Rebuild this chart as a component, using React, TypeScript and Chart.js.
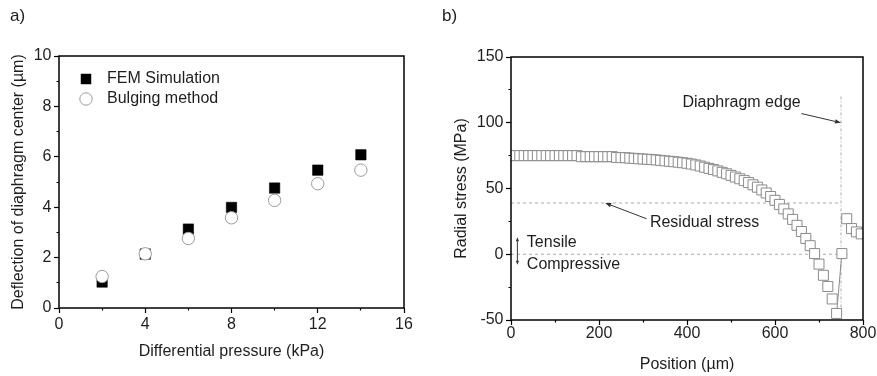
import React, { useEffect, useRef } from "react";
import { Chart, registerables } from "chart.js";

Chart.register(...registerables);

const FONT_FAMILY = '"Liberation Sans", Arial, Helvetica, sans-serif';
const TEXT_COLOR = "#1e1e1e";

// ---------------- Panel a data ----------------
const pressureKPa = [2, 4, 6, 8, 10, 12, 14];
const femDeflectionUm = [1.03, 2.14, 3.13, 3.99, 4.76, 5.47, 6.08];
const bulgingDeflectionUm = [1.25, 2.15, 2.76, 3.58, 4.27, 4.93, 5.47];
const aSeriesLabels = ["FEM Simulation", "Bulging method"];
const aXTickLabels = [0, 4, 8, 12, 16];
const aYTickLabels = [0, 2, 4, 6, 8, 10];

// ---------------- Panel b data ----------------
const positionUm = [
  0, 10, 20, 30, 40, 50, 60, 70, 80, 90,
  100, 110, 120, 130, 140, 150, 160, 170, 180, 190,
  200, 210, 220, 230, 240, 250, 260, 270, 280, 290,
  300, 310, 320, 330, 340, 350, 360, 370, 380, 390,
  400, 410, 420, 430, 440, 450, 460, 470, 480, 490,
  500, 510, 520, 530, 540, 550, 560, 570, 580, 590,
  600, 610, 620, 630, 640, 650, 660, 670, 680, 690,
  700, 710, 720, 730, 740, 752, 763, 774, 785, 796,
];
const radialStressMPa = [
  75, 75, 75, 75, 75, 75, 75, 75, 75, 75,
  75, 75, 75, 75, 75, 75, 74.2, 74.2, 74.2, 74.2,
  74.2, 74.2, 74.2, 74.2, 73.6, 73.5, 73.4, 73.1, 72.9, 72.6,
  72.4, 72.2, 72.0, 71.7, 71.4, 71.0, 70.7, 70.4, 70.0, 69.6,
  69.2, 68.6, 67.9, 67.1, 66.2, 65.3, 64.4, 63.4, 62.3, 61.2,
  60.0, 58.7, 57.4, 56.0, 54.5, 52.8, 51.0, 48.9, 46.6, 43.9,
  41.0, 37.9, 34.5, 30.7, 26.5, 22.0, 17.3, 12.0, 6.5, 0.5,
  -7.5, -16.0, -24.5, -34.0, -45.0, 0.5, 27.0, 19.5, 17.0, 15.5,
];
const bXTickLabels = [0, 200, 400, 600, 800];
const bYTickLabels = [-50, 0, 50, 100, 150];
const residualStressMPa = 39;
const diaphragmEdgeUm = 750;
const edgeLineTopMPa = 120;
const zeroLineEndUm = 765;

// annotation anchors (data units of panel b)
const bNotes = [
  { text: "Diaphragm edge", x: 524, y: 115, align: "center" },
  { text: "Residual stress", x: 440, y: 24, align: "center" },
  { text: "Tensile", x: 36, y: 9, align: "left" },
  { text: "Compressive", x: 36, y: -7.5, align: "left" },
];
const bArrows = [
  { x1: 660, y1: 107, x2: 750, y2: 100, head: 6, half: 2.2 },
  { x1: 308, y1: 27, x2: 214, y2: 39, head: 6, half: 2.2 },
  { x1: 14.5, y1: 0, x2: 14.5, y2: 13, head: 4, half: 1.6 },
  { x1: 14.5, y1: 0, x2: 14.5, y2: -8, head: 4, half: 1.6 },
];

const TICK_LEN = 5;
const MINOR_LEN = 2.5;

function makeAxis(cfg: {
  horizontal: boolean;
  min: number;
  max: number;
  step: number;
  labels: number[];
  tickPad: number;
  title: string;
  titlePad: number;
  size: number;
}) {
  const isMajor = (v: number) => cfg.labels.includes(v);
  return {
    type: "linear",
    position: cfg.horizontal ? "bottom" : "left",
    min: cfg.min,
    max: cfg.max,
    afterFit: (s: any) => {
      if (cfg.horizontal) s.height = cfg.size;
      else s.width = cfg.size;
      s.paddingLeft = 0;
      s.paddingRight = 0;
      s.paddingTop = 0;
      s.paddingBottom = 0;
    },
    ticks: {
      stepSize: cfg.step,
      autoSkip: false,
      maxRotation: 0,
      minRotation: 0,
      padding: cfg.tickPad,
      color: TEXT_COLOR,
      font: { family: FONT_FAMILY, size: 16 },
      callback: (v: any) => (isMajor(Number(v)) ? String(v) : ""),
    },
    grid: {
      display: true,
      drawOnChartArea: false,
      drawTicks: true,
      tickLength: TICK_LEN,
      tickColor: "#000",
      tickWidth: 1.2,
      tickBorderDash: (ctx: any) => {
        if (!ctx || !ctx.tick || isMajor(ctx.tick.value)) return [];
        return cfg.horizontal
          ? [MINOR_LEN, 30]
          : [0, TICK_LEN - MINOR_LEN, MINOR_LEN, 30];
      },
    },
    border: { display: false },
    title: {
      display: true,
      text: cfg.title,
      color: TEXT_COLOR,
      font: { family: FONT_FAMILY, size: 16 },
      padding: cfg.horizontal
        ? { top: 0, bottom: cfg.titlePad }
        : { top: cfg.titlePad, bottom: 0 },
    },
  };
}

const framePlugin = {
  id: "frame",
  afterDraw(chart: any) {
    const { ctx, chartArea: a } = chart;
    ctx.save();
    ctx.strokeStyle = "#000";
    ctx.lineWidth = 1.5;
    ctx.strokeRect(a.left, a.top, a.right - a.left, a.bottom - a.top);
    ctx.restore();
  },
};

function panelLabelPlugin(text: string, x: number, y: number) {
  return {
    id: "panelLabel",
    afterDraw(chart: any) {
      const ctx = chart.ctx;
      ctx.save();
      ctx.fillStyle = TEXT_COLOR;
      ctx.font = `17px ${FONT_FAMILY}`;
      ctx.textAlign = "left";
      ctx.textBaseline = "alphabetic";
      ctx.fillText(text, x, y);
      ctx.restore();
    },
  };
}

const legendPlugin = {
  id: "insideLegend",
  afterDatasetsDraw(chart: any) {
    const { ctx, chartArea: a } = chart;
    ctx.save();
    ctx.font = `16px ${FONT_FAMILY}`;
    ctx.textBaseline = "middle";
    ctx.textAlign = "left";
    chart.data.datasets.forEach((ds: any, i: number) => {
      const cx = a.left + 27;
      const cy = a.top + 23 + i * 20;
      ctx.lineWidth = ds.pointBorderWidth;
      ctx.strokeStyle = ds.pointBorderColor;
      ctx.fillStyle = ds.pointBackgroundColor;
      if (ds.pointStyle === "rect") {
        const h = ds.pointRadius * Math.SQRT1_2;
        ctx.fillRect(cx - h, cy - h, 2 * h, 2 * h);
      } else {
        ctx.beginPath();
        ctx.arc(cx, cy, ds.pointRadius, 0, Math.PI * 2);
        ctx.fill();
        ctx.stroke();
      }
      ctx.fillStyle = TEXT_COLOR;
      ctx.fillText(ds.label, a.left + 48, cy);
    });
    ctx.restore();
  },
};

function drawArrow(ctx: any, x1: number, y1: number, x2: number, y2: number, head: number, half: number) {
  const ang = Math.atan2(y2 - y1, x2 - x1);
  const bx = x2 - head * Math.cos(ang);
  const by = y2 - head * Math.sin(ang);
  ctx.beginPath();
  ctx.moveTo(x1, y1);
  ctx.lineTo(bx, by);
  ctx.stroke();
  ctx.beginPath();
  ctx.moveTo(x2, y2);
  ctx.lineTo(bx + half * Math.sin(ang), by - half * Math.cos(ang));
  ctx.lineTo(bx - half * Math.sin(ang), by + half * Math.cos(ang));
  ctx.closePath();
  ctx.fill();
}

const annotationPlugin = {
  id: "annotations",
  afterDatasetsDraw(chart: any) {
    const { ctx } = chart;
    const xs = chart.scales.x;
    const ys = chart.scales.y;
    ctx.save();
    ctx.fillStyle = TEXT_COLOR;
    ctx.strokeStyle = "#333";
    ctx.lineWidth = 1;
    ctx.font = `16px ${FONT_FAMILY}`;
    ctx.textBaseline = "middle";
    bNotes.forEach((n) => {
      ctx.textAlign = n.align;
      ctx.fillText(n.text, xs.getPixelForValue(n.x), ys.getPixelForValue(n.y));
    });
    ctx.fillStyle = "#333";
    bArrows.forEach((r) => {
      drawArrow(
        ctx,
        xs.getPixelForValue(r.x1),
        ys.getPixelForValue(r.y1),
        xs.getPixelForValue(r.x2),
        ys.getPixelForValue(r.y2),
        r.head,
        r.half
      );
    });
    ctx.restore();
  },
};

export default function App() {
  const refA = useRef<HTMLCanvasElement | null>(null);
  const refB = useRef<HTMLCanvasElement | null>(null);

  useEffect(() => {
    if (!refA.current || !refB.current) return;

    const chartA = new Chart(refA.current, {
      type: "scatter",
      data: {
        datasets: [
          {
            label: aSeriesLabels[0],
            data: pressureKPa.map((x, i) => ({ x, y: femDeflectionUm[i] })),
            pointStyle: "rect",
            pointRadius: 7.4,
            pointBackgroundColor: "#000",
            pointBorderColor: "#000",
            pointBorderWidth: 0.5,
            order: 1,
          },
          {
            label: aSeriesLabels[1],
            data: pressureKPa.map((x, i) => ({ x, y: bulgingDeflectionUm[i] })),
            pointStyle: "circle",
            pointRadius: 6.2,
            pointBackgroundColor: "#fff",
            pointBorderColor: "#9a9a9a",
            pointBorderWidth: 1,
            order: 0,
          },
        ],
      } as any,
      options: {
        animation: false,
        responsive: false,
        devicePixelRatio: 1,
        events: [],
        layout: { padding: { left: 0, top: 56, right: 36, bottom: 0 } },
        plugins: { legend: { display: false }, tooltip: { enabled: false } },
        scales: {
          x: makeAxis({
            horizontal: true, min: 0, max: 16, step: 2, labels: aXTickLabels,
            tickPad: 2.4, title: "Differential pressure (kPa)", titlePad: 14.4, size: 68,
          }),
          y: makeAxis({
            horizontal: false, min: 0, max: 10, step: 1, labels: aYTickLabels,
            tickPad: 2.5, title: "Deflection of diaphragm center (\u00b5m)", titlePad: 9.2, size: 59,
          }),
        },
      } as any,
      plugins: [framePlugin, legendPlugin, panelLabelPlugin("a)", 10, 21)],
    });

    const last = positionUm.length;
    const chartB = new Chart(refB.current, {
      type: "scatter",
      data: {
        datasets: [
          {
            label: "Radial stress",
            data: positionUm.map((x, i) => ({ x, y: radialStressMPa[i] })),
            pointStyle: "rect",
            pointRadius: 7.07,
            pointBackgroundColor: "#fff",
            pointBorderColor: "#8a8a8a",
            pointBorderWidth: 1,
            clip: 0,
            order: 0,
          },
          {
            label: "edge link",
            data: [
              { x: positionUm[last - 6], y: radialStressMPa[last - 6] },
              { x: positionUm[last - 5], y: radialStressMPa[last - 5] },
            ],
            showLine: true,
            borderColor: "#8a8a8a",
            borderWidth: 1,
            pointRadius: 0,
            order: 1,
          },
          {
            label: "residual",
            data: [
              { x: 0, y: residualStressMPa },
              { x: diaphragmEdgeUm, y: residualStressMPa },
            ],
            showLine: true,
            borderColor: "#ababab",
            borderWidth: 1,
            borderDash: [3, 3],
            pointRadius: 0,
            order: 2,
          },
          {
            label: "zero",
            data: [
              { x: 0, y: 0 },
              { x: zeroLineEndUm, y: 0 },
            ],
            showLine: true,
            borderColor: "#ababab",
            borderWidth: 1,
            borderDash: [3, 3],
            pointRadius: 0,
            order: 3,
          },
          {
            label: "edge",
            data: [
              { x: diaphragmEdgeUm, y: edgeLineTopMPa },
              { x: diaphragmEdgeUm, y: -50 },
            ],
            showLine: true,
            borderColor: "#ababab",
            borderWidth: 1,
            borderDash: [3, 2, 1, 2],
            pointRadius: 0,
            order: 4,
          },
        ],
      } as any,
      options: {
        animation: false,
        responsive: false,
        devicePixelRatio: 1,
        events: [],
        layout: { padding: { left: 0, top: 57, right: 14, bottom: 0 } },
        plugins: { legend: { display: false }, tooltip: { enabled: false } },
        scales: {
          x: makeAxis({
            horizontal: true, min: 0, max: 800, step: 100, labels: bXTickLabels,
            tickPad: -0.6, title: "Position (\u00b5m)", titlePad: 1.8, size: 56,
          }),
          y: makeAxis({
            horizontal: false, min: -50, max: 150, step: 25, labels: bYTickLabels,
            tickPad: 2.5, title: "Radial stress (MPa)", titlePad: 11.7, size: 71,
          }),
        },
      } as any,
      plugins: [framePlugin, annotationPlugin, panelLabelPlugin("b)", 2, 21)],
    });

    return () => {
      chartA.destroy();
      chartB.destroy();
    };
  }, []);

  return (
    <div
      style={{
        position: "absolute",
        left: 0,
        top: 0,
        width: 877,
        height: 376,
        background: "#fff",
        overflow: "hidden",
      }}
    >
      <canvas
        ref={refA}
        width={440}
        height={376}
        style={{ position: "absolute", left: 0, top: 0 }}
      />
      <canvas
        ref={refB}
        width={437}
        height={376}
        style={{ position: "absolute", left: 440, top: 0 }}
      />
    </div>
  );
}
